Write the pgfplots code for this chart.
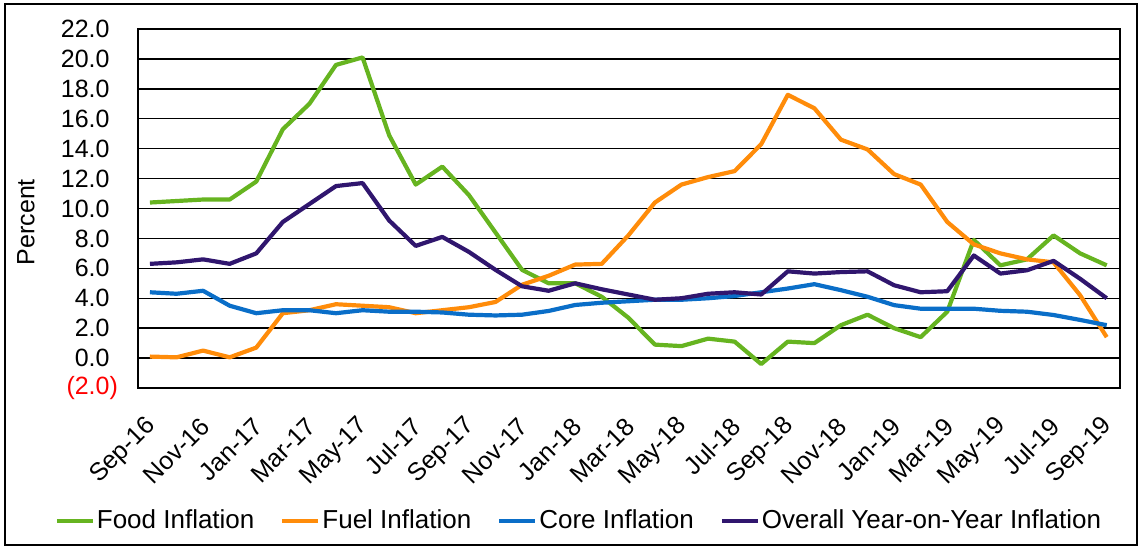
\documentclass[border=0pt]{standalone}
\usepackage{fontspec}
\setmainfont{Liberation Sans}
\usepackage{pgfplots}
\usepackage{pgfplotstable}
\pgfplotsset{compat=1.18}
\definecolor{foodc}{RGB}{102,180,32}
\definecolor{fuelc}{RGB}{255,140,10}
\definecolor{corec}{RGB}{10,110,200}
\definecolor{allc}{RGB}{48,22,110}
\pgfplotstableread{
x food fuel core overall
0 10.4 0.10 4.40 6.30
1 10.5 0.05 4.30 6.40
2 10.6 0.50 4.50 6.60
3 10.6 0.05 3.50 6.30
4 11.8 0.70 3.00 7.00
5 15.3 3.00 3.20 9.10
6 17.0 3.20 3.20 10.3
7 19.6 3.60 3.00 11.5
8 20.1 3.50 3.20 11.7
9 14.9 3.40 3.10 9.20
10 11.6 3.00 3.10 7.50
11 12.8 3.20 3.05 8.10
12 10.9 3.40 2.90 7.10
13 8.4 3.75 2.85 5.90
14 5.9 4.90 2.90 4.80
15 5.0 5.50 3.15 4.50
16 5.0 6.25 3.55 5.00
17 4.1 6.30 3.70 4.60
18 2.7 8.20 3.80 4.25
19 0.9 10.4 3.90 3.90
20 0.8 11.6 3.90 4.00
21 1.3 12.1 4.00 4.30
22 1.1 12.5 4.15 4.40
23 -0.4 14.3 4.40 4.25
24 1.1 17.6 4.65 5.80
25 1.0 16.7 4.94 5.65
26 2.2 14.6 4.54 5.75
27 2.9 13.95 4.10 5.80
28 2.0 12.3 3.54 4.87
29 1.4 11.6 3.30 4.40
30 3.1 9.10 3.30 4.47
31 7.9 7.60 3.30 6.86
32 6.2 7.00 3.16 5.65
33 6.6 6.60 3.10 5.87
34 8.2 6.40 2.88 6.50
35 7.0 4.20 2.55 5.30
36 6.2 1.40 2.20 4.00
}\datatable
\begin{document}
\begin{tikzpicture}
\begin{axis}[name=ax, scale only axis, width=491pt, height=179.5pt,
  xmin=-0.45, xmax=36.5, ymin=-2, ymax=22,
  ytick={-2,0,...,22},
  yticklabels={{\textcolor{red}{(2.0\rlap{)}}},0.0,2.0,4.0,6.0,8.0,10.0,12.0,14.0,16.0,18.0,20.0,22.0},
  xtick={0,2,...,36},
  xticklabels={Sep-16,Nov-16,Jan-17,Mar-17,May-17,Jul-17,Sep-17,Nov-17,Jan-18,Mar-18,May-18,Jul-18,Sep-18,Nov-18,Jan-19,Mar-19,May-19,Jul-19,Sep-19},
  ymajorgrids, grid style={black, line width=0.7pt},
  major tick length=0pt,
  axis line style={black, line width=0.7pt},
  tick label style={font=\fontsize{12.5}{14}\selectfont},
  yticklabel style={anchor=east, inner sep=0pt, xshift=-14pt},
  xticklabel style={xshift=1pt, yshift=-17pt, rotate=45, anchor=east, inner sep=0pt},
  ylabel={Percent},
  ylabel style={font=\fontsize{12.5}{14}\selectfont, at={(axis description cs:0,0.462)}, anchor=center, yshift=56pt},
  legend style={at={(axis description cs:0.5,0)}, anchor=center, xshift=-25pt, yshift=-66.5pt,
    draw=none, fill=none, legend columns=4, font=\fontsize{13}{15}\selectfont,
    nodes={inner xsep=1pt},
    /tikz/every even column/.append style={column sep=12pt}},
  legend image code/.code={\draw[#1, line width=2pt] (0pt,0pt) -- (18pt,0pt);},
  every axis plot/.append style={line width=2.1pt, line join=round, mark=none},
]
\addplot[foodc] table[x=x,y=food] {\datatable};
\addlegendentry{Food Inflation}
\addplot[fuelc] table[x=x,y=fuel] {\datatable};
\addlegendentry{Fuel Inflation}
\addplot[corec] table[x=x,y=core] {\datatable};
\addlegendentry{Core Inflation}
\addplot[allc] table[x=x,y=overall] {\datatable};
\addlegendentry{Overall Year-on-Year Inflation}
\end{axis}
\draw[black, line width=0.7pt] ([xshift=-66.5pt,yshift=-78.5pt]ax.south west) rectangle ([xshift=8.5pt,yshift=12.5pt]ax.north east);
\pgfresetboundingbox
\useasboundingbox ([xshift=-69pt,yshift=-79.5pt]ax.south west) rectangle ([xshift=11pt,yshift=14.5pt]ax.north east);
\end{tikzpicture}
\end{document}
